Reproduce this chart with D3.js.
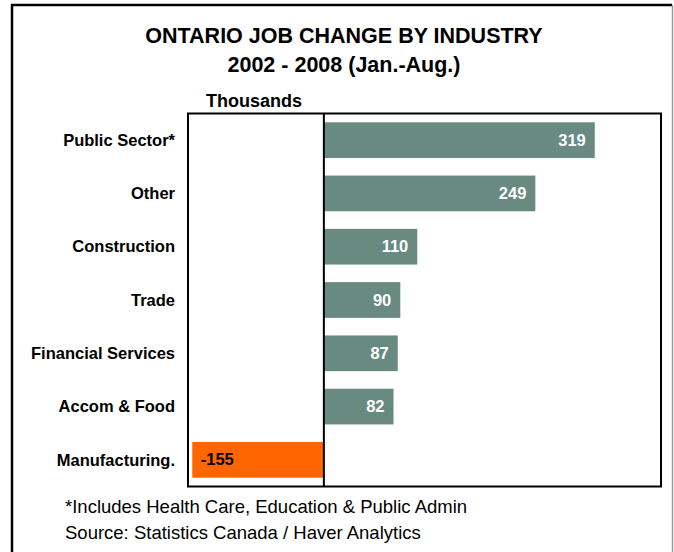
<!DOCTYPE html>
<html>
<head>
<meta charset="utf-8">
<script src="https://cdn.jsdelivr.net/npm/d3@7"></script>
<style>
  html, body { margin: 0; padding: 0; background: #fff; }
  svg { display: block; font-family: "Liberation Sans", Arial, sans-serif; }
</style>
</head>
<body>
<svg id="chart" width="674" height="552"></svg>
<script>
// Job change by industry, thousands, 2002 - 2008 (Jan.-Aug.)
const industries = ["Public Sector*", "Other", "Construction", "Trade",
                    "Financial Services", "Accom & Food", "Manufacturing."];
const jobChange = [319, 249, 110, 90, 87, 82, -155];
const xDomain = [-160, 397];

const titleLines = ["ONTARIO JOB CHANGE BY INDUSTRY", "2002 - 2008 (Jan.-Aug.)"];
const unitLabel = "Thousands";
const notes = ["*Includes Health Care, Education & Public Admin",
               "Source: Statistics Canada / Haver Analytics"];

const gainColor = "#688a81";
const lossColor = "#ff6600";

const svg = d3.select("#chart");

// outer frame (no bottom edge)
svg.append("path")
  .attr("d", "M12,553 L12,5 L672,5")
  .attr("fill", "none").attr("stroke", "#000").attr("stroke-width", 2.5);
svg.append("line")
  .attr("x1", 672.5).attr("x2", 672.5).attr("y1", 5).attr("y2", 552)
  .attr("stroke", "#9a9a9a").attr("stroke-width", 1.5);

// titles
svg.selectAll("text.title").data(titleLines).join("text")
  .attr("class", "title")
  .attr("x", 344).attr("y", (d, i) => 43 + i * 29)
  .attr("text-anchor", "middle")
  .attr("font-size", 21.5).attr("font-weight", "bold").attr("fill", "#000")
  .text(d => d);

svg.append("text")
  .attr("x", 206).attr("y", 107)
  .attr("font-size", 18).attr("font-weight", "bold")
  .text(unitLabel);

// plot area
const plot = { left: 188, right: 661, top: 113.5, bottom: 486.5 };

const x = d3.scaleLinear().domain(xDomain).range([plot.left, plot.right]);
const y = d3.scaleBand().domain(industries)
  .range([plot.top, plot.bottom])
  .paddingInner(0.33).paddingOuter(0.165);

const rows = industries.map((name, i) => ({ name, value: jobChange[i] }));

svg.append("g").selectAll("rect").data(rows).join("rect")
  .attr("x", d => x(Math.min(0, d.value)))
  .attr("width", d => Math.abs(x(d.value) - x(0)))
  .attr("y", d => y(d.name))
  .attr("height", y.bandwidth())
  .attr("fill", d => d.value < 0 ? lossColor : gainColor);

// value labels inside the bar ends
svg.append("g").selectAll("text").data(rows).join("text")
  .attr("x", d => d.value < 0 ? x(d.value) + 8.5 : x(d.value) - 9)
  .attr("y", d => y(d.name) + y.bandwidth() / 2)
  .attr("dy", "0.34em")
  .attr("text-anchor", d => d.value < 0 ? "start" : "end")
  .attr("font-size", 16.5).attr("font-weight", "bold")
  .attr("fill", d => d.value < 0 ? "#000" : "#fff")
  .text(d => d.value);

// plot frame and zero line
svg.append("rect")
  .attr("x", plot.left).attr("y", plot.top)
  .attr("width", plot.right - plot.left).attr("height", plot.bottom - plot.top)
  .attr("fill", "none").attr("stroke", "#000").attr("stroke-width", 2);
svg.append("line")
  .attr("x1", x(0)).attr("x2", x(0)).attr("y1", plot.top).attr("y2", plot.bottom)
  .attr("stroke", "#000").attr("stroke-width", 2);

// category axis
const yAxis = d3.axisLeft(y).tickSize(0).tickPadding(0);
const gy = svg.append("g").attr("transform", "translate(175,0)").call(yAxis);
gy.select(".domain").remove();
gy.selectAll("text")
  .attr("font-family", "Liberation Sans, Arial, sans-serif")
  .attr("font-size", 16.5).attr("font-weight", "bold").attr("fill", "#000")
  .attr("dy", "0.35em");

// notes
svg.selectAll("text.note").data(notes).join("text")
  .attr("class", "note")
  .attr("x", 65).attr("y", (d, i) => 513 + i * 25.5)
  .attr("font-size", 18.5).attr("fill", "#000")
  .text(d => d);
</script>
</body>
</html>
